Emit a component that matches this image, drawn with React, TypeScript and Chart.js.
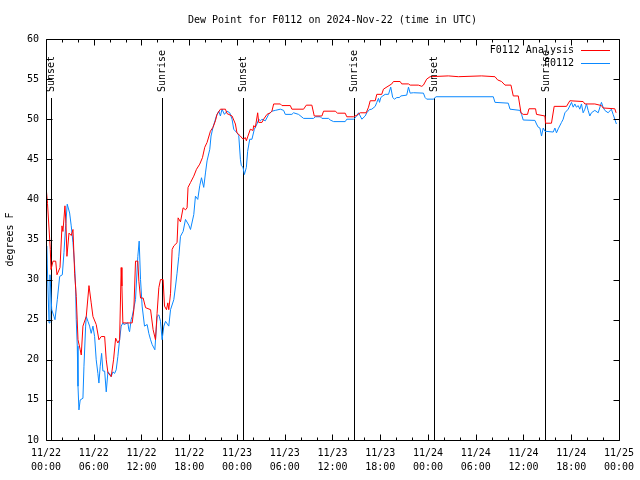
import React, { useEffect, useRef } from "react";
import { Chart, registerables } from "chart.js";

Chart.register(...registerables);

const TITLE = "Dew Point for F0112 on 2024-Nov-22 (time in UTC)";
const Y_LABEL = "degrees F";
const SERIES_NAMES = ["F0112 Analysis", "F0112"];
const SERIES_COLORS = ["#ff0000", "#0a88ff"];

const X_TICK_DATES = ["11/22", "11/22", "11/22", "11/22", "11/23", "11/23", "11/23", "11/23", "11/24", "11/24", "11/24", "11/24", "11/25"];
const X_TICK_TIMES = ["00:00", "06:00", "12:00", "18:00", "00:00", "06:00", "12:00", "18:00", "00:00", "06:00", "12:00", "18:00", "00:00"];
const X_MIN = 0;
const X_MAX = 72;
const X_MAJOR = 6;
const X_MINOR = 2;
const Y_MIN = 10;
const Y_MAX = 60;
const Y_STEP = 5;

const SUN_HOURS = [0.66, 14.6, 24.76, 38.7, 48.72, 62.77];
const SUN_LABELS = ["Sunset", "Sunrise", "Sunset", "Sunrise", "Sunset", "Sunrise"];
const SUN_LINE_TOP = 52.6;

// F0112 Analysis (hours since 11/22 00:00 UTC, deg F)
const analysisHours = [
  0.0, 0.06, 0.19, 0.54, 0.63, 0.88, 1.22, 1.38, 1.76, 2.01, 2.13, 2.38, 2.51, 2.63, 2.89, 3.17, 3.39, 3.6, 3.8, 4.02,
  4.3, 4.43, 4.64, 5.06, 5.4, 5.68, 5.9, 6.31, 6.65, 6.94, 7.37, 7.57, 7.78, 8.19, 8.49, 8.75, 9.03, 9.25, 9.45, 9.54,
  9.66, 10.08, 10.83, 11.04, 11.25, 11.54, 11.67, 11.88, 12.21, 12.51, 13.14, 13.46, 13.76, 13.96, 14.18, 14.39, 14.72, 14.89, 15.14, 15.31,
  15.43, 15.65, 15.85, 16.06, 16.47, 16.6, 16.9, 17.23, 17.53, 17.73, 17.85, 18.16, 18.57, 18.91, 19.32, 19.66, 19.95, 20.24, 20.66, 20.99,
  21.29, 21.49, 21.92, 22.55, 22.75, 23.38, 23.8, 24.0, 24.43, 24.76, 25.06, 25.18, 25.38, 25.68, 26.01, 26.1, 26.31, 26.6, 26.73, 27.14,
  27.35, 27.77, 28.19, 28.39, 28.61, 29.45, 29.65, 30.7, 30.9, 32.37, 32.71, 33.41, 33.71, 34.67, 34.88, 36.35, 36.64, 37.6, 37.8, 38.65,
  39.06, 39.49, 40.24, 40.53, 40.74, 41.37, 41.57, 42.19, 42.41, 43.45, 43.66, 44.5, 44.7, 45.55, 45.76, 46.8, 47.22, 47.43, 47.84, 48.27,
  50.56, 51.82, 54.74, 56.42, 56.75, 57.25, 57.68, 58.43, 58.72, 59.35, 59.69, 59.97, 60.51, 60.69, 61.52, 61.64, 62.7, 62.77, 63.52, 63.86,
  65.41, 65.83, 67.5, 67.72, 68.97, 69.8, 70.01, 71.48, 71.64,
];
const analysisValues = [
  38.5, 41.0, 39.5, 33.75, 31.25, 32.3, 32.3, 30.6, 31.5, 36.7, 36.0, 39.2, 37.0, 32.9, 35.8, 35.5, 36.25, 30.8, 27.9, 22.5,
  21.25, 20.6, 24.2, 25.4, 29.25, 27.1, 25.4, 24.4, 22.5, 22.9, 22.9, 20.0, 18.4, 17.9, 20.0, 22.7, 22.1, 22.5, 31.5, 29.2,
  24.6, 24.6, 24.6, 26.25, 32.3, 32.3, 29.8, 27.7, 27.7, 26.5, 26.25, 23.75, 22.5, 25.8, 29.0, 30.0, 30.0, 26.7, 26.25, 27.1,
  26.25, 28.3, 33.75, 34.2, 34.6, 37.7, 37.2, 38.95, 38.7, 38.95, 41.5, 42.1, 42.9, 43.75, 44.4, 45.2, 46.5, 47.1, 48.5, 49.0,
  49.8, 50.6, 51.25, 51.25, 50.7, 50.4, 49.4, 48.3, 47.9, 47.5, 47.7, 47.3, 47.9, 48.75, 48.6, 49.2, 49.0, 50.8, 49.6, 49.6,
  50.0, 50.6, 50.8, 51.0, 51.9, 51.9, 51.7, 51.7, 51.25, 51.25, 51.75, 51.75, 50.4, 50.4, 51.0, 51.0, 50.75, 50.75, 50.3, 50.3,
  50.5, 50.8, 50.8, 51.5, 52.3, 52.3, 53.1, 53.1, 53.75, 54.4, 54.7, 54.7, 54.4, 54.4, 54.25, 54.25, 54.1, 54.25, 55.0, 55.3,
  55.4, 55.3, 55.4, 55.3, 54.9, 54.7, 54.25, 54.25, 52.9, 52.9, 50.8, 50.6, 50.6, 51.3, 51.3, 50.6, 50.4, 49.5, 49.5, 51.6,
  51.6, 52.3, 52.2, 51.9, 51.9, 51.7, 51.4, 51.3, 50.8,
];

// F0112 observations
const obsHours = [
  0.0, 0.09, 0.38, 0.5, 0.72, 1.0, 1.13, 1.42, 1.72, 2.05, 2.26, 2.47, 2.67, 2.76, 2.97, 3.17, 3.39, 3.6, 3.73, 3.8,
  3.93, 4.02, 4.14, 4.3, 4.64, 4.77, 4.98, 5.06, 5.27, 5.48, 5.68, 5.9, 6.11, 6.31, 6.52, 6.65, 6.81, 6.99, 7.15, 7.37,
  7.57, 7.78, 7.99, 8.19, 8.41, 8.62, 8.82, 9.03, 9.25, 9.45, 9.66, 9.79, 10.29, 10.41, 10.5, 10.7, 10.83, 11.25, 11.54, 11.71,
  11.88, 12.08, 12.38, 12.71, 12.92, 13.14, 13.34, 13.68, 13.96, 14.18, 14.39, 14.59, 14.81, 15.02, 15.43, 15.65, 16.06, 16.28, 16.47, 16.69,
  16.9, 17.23, 17.53, 17.94, 18.16, 18.57, 18.78, 19.07, 19.32, 19.54, 19.82, 20.04, 20.24, 20.58, 20.74, 20.99, 21.08, 21.42, 21.71, 21.92,
  22.12, 22.42, 22.75, 23.09, 23.38, 23.59, 24.0, 24.22, 24.43, 24.55, 24.76, 24.93, 25.18, 25.34, 25.6, 25.88, 26.18, 26.51, 26.73, 26.94,
  27.14, 27.56, 27.98, 28.39, 28.82, 29.45, 29.86, 30.07, 30.9, 31.11, 31.74, 32.37, 33.63, 33.84, 34.47, 34.67, 35.51, 35.72, 36.14, 37.6,
  37.8, 38.65, 39.06, 39.27, 39.49, 39.69, 40.11, 40.31, 40.65, 40.94, 41.37, 41.57, 41.78, 41.91, 42.07, 42.32, 42.62, 43.04, 43.32, 43.57,
  43.79, 44.08, 44.42, 44.58, 45.33, 45.55, 45.76, 46.17, 47.43, 47.64, 47.84, 48.68, 49.02, 56.21, 56.42, 58.09, 58.31, 59.56, 59.76, 59.97,
  61.44, 61.64, 61.86, 62.07, 62.27, 62.48, 62.7, 63.74, 63.95, 64.15, 64.37, 64.78, 64.99, 65.21, 65.62, 66.04, 66.25, 66.46, 66.66, 66.88,
  67.08, 67.29, 67.5, 67.72, 67.92, 68.13, 68.34, 68.54, 68.97, 69.39, 69.8, 70.01, 70.22, 70.64, 71.05, 71.27, 71.48, 71.68,
];
const obsValues = [
  32.1, 34.2, 24.6, 30.6, 26.25, 25.4, 25.0, 27.5, 30.4, 30.6, 33.4, 36.7, 39.4, 39.4, 38.3, 36.7, 34.6, 31.7, 28.75, 25.0,
  21.7, 16.7, 13.75, 15.0, 15.2, 19.2, 24.2, 25.4, 24.8, 24.2, 23.3, 24.2, 22.9, 20.0, 18.3, 17.1, 19.2, 20.8, 18.6, 18.6,
  16.0, 18.5, 18.3, 17.9, 18.5, 18.3, 18.75, 20.4, 22.5, 24.2, 24.6, 24.4, 24.6, 23.75, 23.5, 25.0, 25.4, 27.5, 32.9, 34.8,
  30.0, 26.7, 24.2, 24.4, 23.3, 22.5, 21.9, 21.25, 25.4, 25.6, 24.8, 22.5, 24.2, 24.8, 24.2, 26.25, 27.5, 29.2, 30.8, 32.9,
  35.4, 36.0, 37.5, 36.8, 36.25, 38.1, 40.4, 40.0, 41.7, 42.7, 41.5, 43.3, 44.8, 46.25, 47.9, 49.0, 49.0, 50.4, 51.0, 50.4,
  51.25, 50.6, 51.0, 50.8, 50.0, 48.75, 48.3, 48.0, 45.0, 44.2, 44.0, 43.1, 44.0, 46.0, 47.5, 47.5, 48.75, 49.4, 50.0, 49.8,
  50.0, 49.8, 50.6, 51.0, 51.1, 51.25, 51.1, 50.6, 50.6, 50.8, 50.6, 50.1, 50.1, 50.3, 50.3, 50.1, 50.1, 49.9, 49.7, 49.7,
  50.0, 50.0, 50.4, 50.8, 50.4, 50.0, 50.4, 50.8, 51.2, 51.25, 51.6, 52.1, 52.6, 52.1, 52.7, 52.9, 53.1, 53.1, 54.0, 52.7,
  52.5, 52.7, 52.7, 52.9, 53.0, 54.0, 53.25, 53.3, 53.25, 52.7, 52.5, 52.5, 52.8, 52.8, 52.1, 52.0, 51.25, 51.1, 50.6, 49.9,
  49.85, 49.4, 49.0, 48.9, 47.9, 48.9, 48.5, 48.4, 48.9, 48.3, 48.8, 49.6, 50.0, 50.8, 51.25, 52.1, 51.5, 51.9, 51.5, 51.7,
  51.25, 51.9, 50.8, 51.25, 51.9, 51.1, 50.4, 50.8, 51.1, 50.8, 52.1, 51.5, 51.1, 50.8, 51.25, 50.6, 50.0, 49.4,
];

const FONT = "'DejaVu Sans Mono', monospace";

function toPoints(xs: number[], ys: number[]) {
  return xs.map((x, i) => ({ x, y: ys[i] }));
}

const decorPlugin = {
  id: "decor",
  beforeDatasetsDraw(chart: any) {
    const { ctx, chartArea: a, scales } = chart;
    const xs = scales.x;
    const ys = scales.y;
    ctx.save();
    ctx.strokeStyle = "#000";
    ctx.lineWidth = 1;
    const topPx = Math.round(ys.getPixelForValue(SUN_LINE_TOP));
    SUN_HOURS.forEach((h) => {
      const px = Math.round(xs.getPixelForValue(h)) + 0.5;
      ctx.beginPath();
      ctx.moveTo(px, a.bottom);
      ctx.lineTo(px, topPx);
      ctx.stroke();
    });
    ctx.restore();
  },
  afterDraw(chart: any) {
    const { ctx, chartArea: a, scales } = chart;
    const xs = scales.x;
    const ys = scales.y;
    ctx.save();
    ctx.strokeStyle = "#000";
    ctx.fillStyle = "#000";
    ctx.lineWidth = 1;
    // frame
    const L = Math.round(a.left) + 0.5;
    const R = Math.round(a.right) + 0.5;
    const T = Math.round(a.top) + 0.5;
    const B = Math.round(a.bottom) + 0.5;
    ctx.beginPath();
    ctx.rect(L, T, R - L, B - T);
    ctx.stroke();
    // x ticks (inward)
    for (let h = X_MIN; h <= X_MAX; h += X_MINOR) {
      const px = Math.round(xs.getPixelForValue(h)) + 0.5;
      const len = h % X_MAJOR === 0 ? 6 : 3;
      ctx.beginPath();
      ctx.moveTo(px, B);
      ctx.lineTo(px, B - len);
      ctx.moveTo(px, T);
      ctx.lineTo(px, T + len);
      ctx.stroke();
    }
    // y ticks (inward)
    for (let v = Y_MIN; v <= Y_MAX; v += Y_STEP) {
      const py = Math.round(ys.getPixelForValue(v)) + 0.5;
      ctx.beginPath();
      ctx.moveTo(L, py);
      ctx.lineTo(L + 6, py);
      ctx.moveTo(R, py);
      ctx.lineTo(R - 6, py);
      ctx.stroke();
    }
    ctx.font = "10px " + FONT;
    // title
    ctx.textAlign = "center";
    ctx.textBaseline = "middle";
    ctx.fillText(TITLE, (a.left + a.right) / 2, 20);
    // y label
    ctx.save();
    ctx.translate(10, (a.top + a.bottom) / 2);
    ctx.rotate(-Math.PI / 2);
    ctx.fillText(Y_LABEL, 0, 0);
    ctx.restore();
    // legend
    SERIES_NAMES.forEach((name, i) => {
      const y = 50 + i * 13;
      ctx.fillStyle = "#000";
      ctx.textAlign = "right";
      ctx.textBaseline = "middle";
      ctx.fillText(name, 574, y);
      ctx.strokeStyle = SERIES_COLORS[i];
      ctx.beginPath();
      ctx.moveTo(581, Math.round(y) + 0.5);
      ctx.lineTo(610, Math.round(y) + 0.5);
      ctx.stroke();
    });
    // sun labels
    ctx.fillStyle = "#000";
    SUN_HOURS.forEach((h, i) => {
      const px = xs.getPixelForValue(h) + 0.5;
      ctx.save();
      ctx.translate(px, 92);
      ctx.rotate(-Math.PI / 2);
      ctx.textAlign = "left";
      ctx.textBaseline = "middle";
      ctx.fillText(SUN_LABELS[i], 0, 0);
      ctx.restore();
    });
    ctx.restore();
  },
};

export default function App() {
  const ref = useRef<HTMLCanvasElement | null>(null);
  useEffect(() => {
    if (!ref.current) return;
    const chart = new Chart(ref.current, {
      type: "line",
      data: {
        datasets: [
          {
            label: SERIES_NAMES[0],
            data: toPoints(analysisHours, analysisValues),
            borderColor: SERIES_COLORS[0],
            borderWidth: 1,
            pointRadius: 0,
            tension: 0,
            fill: false,
          },
          {
            label: SERIES_NAMES[1],
            data: toPoints(obsHours, obsValues),
            borderColor: SERIES_COLORS[1],
            borderWidth: 1,
            pointRadius: 0,
            tension: 0,
            fill: false,
          },
        ],
      },
      options: {
        responsive: false,
        animation: false,
        devicePixelRatio: 1,
        layout: { padding: { top: 39, right: 19, left: 0, bottom: 0 } },
        plugins: {
          legend: { display: false },
          title: { display: false },
          tooltip: { enabled: false },
        },
        scales: {
          x: {
            type: "linear",
            min: X_MIN,
            max: X_MAX,
            grid: { display: false, drawTicks: false },
            border: { display: false },
            afterFit: (s: any) => {
              s.height = 40;
            },
            afterBuildTicks: (s: any) => {
              s.ticks = X_TICK_DATES.map((_, i) => ({ value: X_MIN + i * X_MAJOR }));
            },
            ticks: {
              autoSkip: false,
              maxRotation: 0,
              minRotation: 0,
              padding: 6,
              color: "#000",
              font: { family: FONT, size: 10, lineHeight: 1.4 },
              callback: (v: any) => {
                const i = Math.round((Number(v) - X_MIN) / X_MAJOR);
                return [X_TICK_DATES[i], X_TICK_TIMES[i]];
              },
            },
          },
          y: {
            type: "linear",
            min: Y_MIN,
            max: Y_MAX,
            grid: { display: false, drawTicks: false },
            border: { display: false },
            afterFit: (s: any) => {
              s.width = 46;
            },
            ticks: {
              stepSize: Y_STEP,
              padding: 7,
              color: "#000",
              font: { family: FONT, size: 10 },
            },
          },
        },
      },
      plugins: [decorPlugin],
    });
    return () => chart.destroy();
  }, []);
  return (
    <div style={{ position: "absolute", left: 0, top: 0, width: 640, height: 480, background: "#fff" }}>
      <canvas ref={ref} width={640} height={480} style={{ width: 640, height: 480 }} />
    </div>
  );
}
